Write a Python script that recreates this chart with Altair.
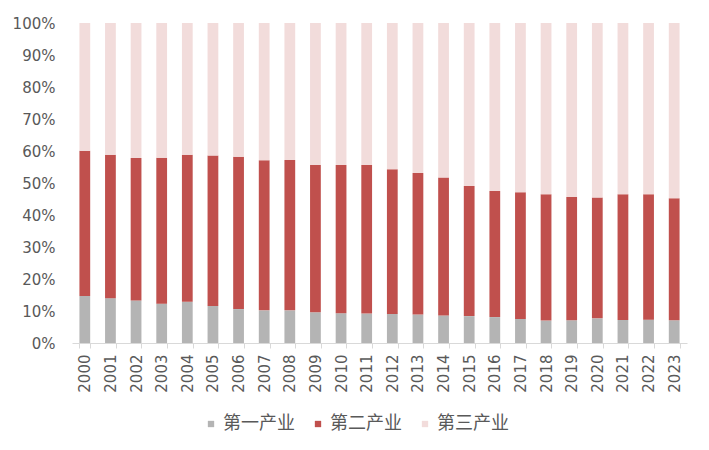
import altair as alt
import pandas as pd

years = [str(y) for y in range(2000, 2024)]
primary = [14.7, 14.0, 13.3, 12.3, 12.9, 11.6, 10.6, 10.2, 10.2, 9.6, 9.3, 9.2,
           9.1, 8.9, 8.6, 8.4, 8.1, 7.5, 7.0, 7.1, 7.7, 7.2, 7.3, 7.1]
secondary = [45.4, 44.8, 44.5, 45.6, 45.9, 47.0, 47.6, 46.9, 47.0, 46.0, 46.3, 46.4,
             45.2, 44.2, 43.1, 40.7, 39.4, 39.6, 39.5, 38.5, 37.8, 39.3, 39.2, 38.1]
tertiary = [round(100 - p - s, 1) for p, s in zip(primary, secondary)]
series = ["第一产业", "第二产业", "第三产业"]
colors = ["#b4b4b4", "#c0504d", "#f2dcdb"]

rows = []
for i, y in enumerate(years):
    for k, (name, vals) in enumerate(zip(series, [primary, secondary, tertiary])):
        rows.append({"year": y, "series": name, "value": vals[i] / 100, "order": k})
df = pd.DataFrame(rows)

cjk = "Noto Sans CJK SC"
num = "DejaVu Sans"

chart = alt.Chart(df).mark_bar().encode(
    x=alt.X("year:N", sort=years, title=None,
            scale=alt.Scale(paddingInner=0.58, paddingOuter=0.29),
            axis=alt.Axis(labelAngle=-90, labelFontSize=15, labelColor="#595959",
                          labelFont=num, domainColor="#d9d9d9", tickColor="#d9d9d9",
                          tickBand="extent", tickSize=5, labelPadding=6, labelBaseline="middle",
                          labelAlign="right")),
    y=alt.Y("value:Q", stack="zero", title=None,
            scale=alt.Scale(domain=[0, 1], nice=False),
            axis=alt.Axis(format=".0%", values=[i / 10 for i in range(11)], domain=False,
                          ticks=False, grid=False, labelFontSize=15, labelColor="#595959",
                          labelFont=num, labelPadding=17)),
    color=alt.Color("series:N", scale=alt.Scale(domain=series, range=colors),
                    sort=series,
                    legend=alt.Legend(title=None, orient="none", direction="horizontal",
                                      legendX=130, legendY=392, symbolType="square",
                                      symbolSize=40, symbolStrokeWidth=0,
                                      labelFontSize=18, labelColor="#595959", labelFont=cjk,
                                      labelOffset=3, columnPadding=14)),
    order=alt.Order("order:Q"),
).properties(
    width=615, height=320,
    padding={"left": 72, "top": 23, "right": 22, "bottom": 107},
    autosize=alt.AutoSizeParams(type="none"),
).configure_view(stroke=None)

chart.save("out.html", embed_options={"renderer": "svg", "actions": False})
